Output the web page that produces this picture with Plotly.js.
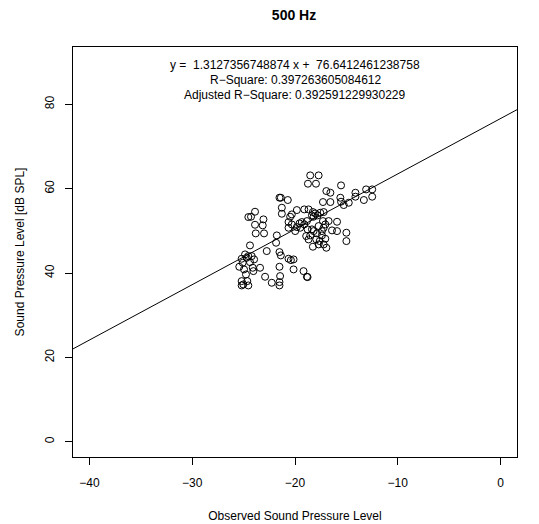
<!DOCTYPE html>
<html>
<head>
<meta charset="utf-8">
<script src="https://cdn.plot.ly/plotly-3.0.1.min.js"></script>
<style>
  html, body { margin: 0; padding: 0; background: #fff; }
  #chart { width: 539px; height: 524px; }
</style>
</head>
<body>
<div id="chart"></div>
<script>
// Observed vs. predicted sound pressure level at 500 Hz
const observed = [
  -18.52, -17.70, -18.74, -17.96, -15.52, -16.95, -16.56, -13.08, -12.49, -14.12,
  -15.59, -15.52, -14.12, -13.30, -12.49, -14.77, -15.26, -17.28, -16.56, -21.51,
  -21.38, -20.70, -21.28, -21.28, -23.89, -24.54, -24.28, -23.07, -23.89, -23.14,
  -23.82, -23.01, -20.31, -20.47, -19.82, -19.10, -18.68, -18.26, -18.03, -18.35,
  -18.19, -17.80, -17.54, -17.21, -20.63, -20.31, -19.56, -19.33, -19.10, -18.84,
  -19.82, -19.49, -20.63, -19.98, -18.77, -18.35, -18.19, -17.70, -17.28, -17.05,
  -17.21, -17.38, -16.73, -16.40, -15.91, -15.91, -15.00, -15.00, -18.91, -18.52,
  -17.86, -17.38, -17.05, -17.60, -18.26, -17.70, -17.21, -16.95, -18.68, -17.93,
  -21.77, -21.84, -22.75, -21.51, -21.38, -20.63, -20.40, -20.14, -21.51, -20.14,
  -19.17, -18.84, -18.78, -24.38, -24.86, -24.54, -24.70, -24.21, -25.19, -23.98,
  -25.09, -24.38, -25.42, -24.96, -24.11, -23.40, -24.05, -24.77, -22.91, -21.45,
  -25.19, -25.03, -24.64, -24.54, -22.26, -21.51, -21.51, -25.19
];
const splDb = [
  63.16, 63.16, 61.19, 61.19, 60.79, 59.45, 59.05, 59.84, 59.84, 59.05,
  57.87, 56.92, 58.11, 57.32, 58.11, 56.68, 56.13, 56.84, 56.84, 57.87,
  57.87, 57.32, 55.50, 54.07, 54.55, 53.28, 53.36, 52.73, 51.46, 51.31,
  49.41, 49.41, 53.91, 53.36, 54.94, 55.10, 55.10, 54.47, 54.15, 53.68,
  53.36, 53.68, 54.31, 54.47, 52.10, 51.54, 51.78, 52.10, 51.54, 52.33,
  50.91, 50.75, 50.75, 49.96, 50.36, 50.36, 49.96, 51.15, 52.33, 51.54,
  50.75, 49.96, 52.33, 50.12, 49.96, 52.17, 49.57, 47.59, 48.78, 48.93,
  49.41, 48.93, 48.14, 47.59, 46.25, 46.80, 46.80, 46.01, 47.98, 47.98,
  48.93, 47.19, 45.22, 44.98, 44.19, 43.40, 43.08, 43.24, 41.50, 40.87,
  40.47, 39.13, 39.05, 46.56, 44.43, 44.03, 43.64, 44.03, 43.40, 43.24,
  42.45, 42.61, 41.50, 40.87, 41.26, 41.26, 40.47, 39.68, 39.13, 39.29,
  38.10, 37.31, 38.10, 37.07, 37.71, 37.87, 37.07, 37.07
];

// Least-squares fit reported on the chart
const slope = 1.3127356748874;
const intercept = 76.6412461238758;
const rSquare = "0.397263605084612";
const adjRSquare = "0.392591229930229";

const xTicks = [-40, -30, -20, -10, 0];
const yTicks = [0, 20, 40, 60, 80];
const xRange = [-41.6, 1.6];
const yRange = [-3.6, 93.6];

const fitX = xRange.slice();
const fitY = fitX.map(x => slope * x + intercept);

const font = "Liberation Sans, Arial, Helvetica, sans-serif";

const traces = [
  {
    x: observed, y: splDb, type: "scatter", mode: "markers",
    marker: { symbol: "circle-open", size: 7, color: "#000", line: { width: 1, color: "#000" } },
    hoverinfo: "x+y"
  },
  {
    x: fitX, y: fitY, type: "scatter", mode: "lines",
    line: { color: "#000", width: 1 }, hoverinfo: "skip"
  }
];

const axisBase = {
  showgrid: false, zeroline: false,
  showline: true, mirror: true, linecolor: "#000", linewidth: 1,
  ticks: "outside", ticklen: 7, tickwidth: 1, tickcolor: "#000",
  tickfont: { family: font, size: 12, color: "#000" },
  fixedrange: true
};

const layout = {
  width: 539, height: 524,
  margin: { l: 73, r: 22, t: 47, b: 67 },
  paper_bgcolor: "#fff", plot_bgcolor: "#fff",
  showlegend: false,
  font: { family: font, color: "#000" },
  title: {
    text: "<b>500 Hz</b>", x: 0.5455, xanchor: "center", y: 0.971, yanchor: "middle",
    font: { family: font, size: 14, color: "#000" }
  },
  xaxis: Object.assign({}, axisBase, {
    range: xRange, tickvals: xTicks, ticklabelstandoff: 8,
    title: { text: "Observed Sound Pressure Level", standoff: 22, font: { family: font, size: 12, color: "#000" } }
  }),
  yaxis: Object.assign({}, axisBase, {
    range: yRange, tickvals: yTicks, tickangle: -90, ticklabelstandoff: 6,
    title: { text: "Sound Pressure Level [dB SPL]", standoff: 16, font: { family: font, size: 12, color: "#000" } }
  }),
  annotations: [
    { text: "y =  " + slope + " x +  " + intercept, y: 0.957 },
    { text: "R\u2212Square: " + rSquare, y: 0.920 },
    { text: "Adjusted R\u2212Square: " + adjRSquare, y: 0.882 }
  ].map(a => Object.assign({
    xref: "paper", yref: "paper", x: 0.5, xanchor: "center", yanchor: "middle",
    showarrow: false, font: { family: font, size: 12, color: "#000" }
  }, a))
};

Plotly.newPlot("chart", traces, layout, { displayModeBar: false, staticPlot: true });
</script>
</body>
</html>
